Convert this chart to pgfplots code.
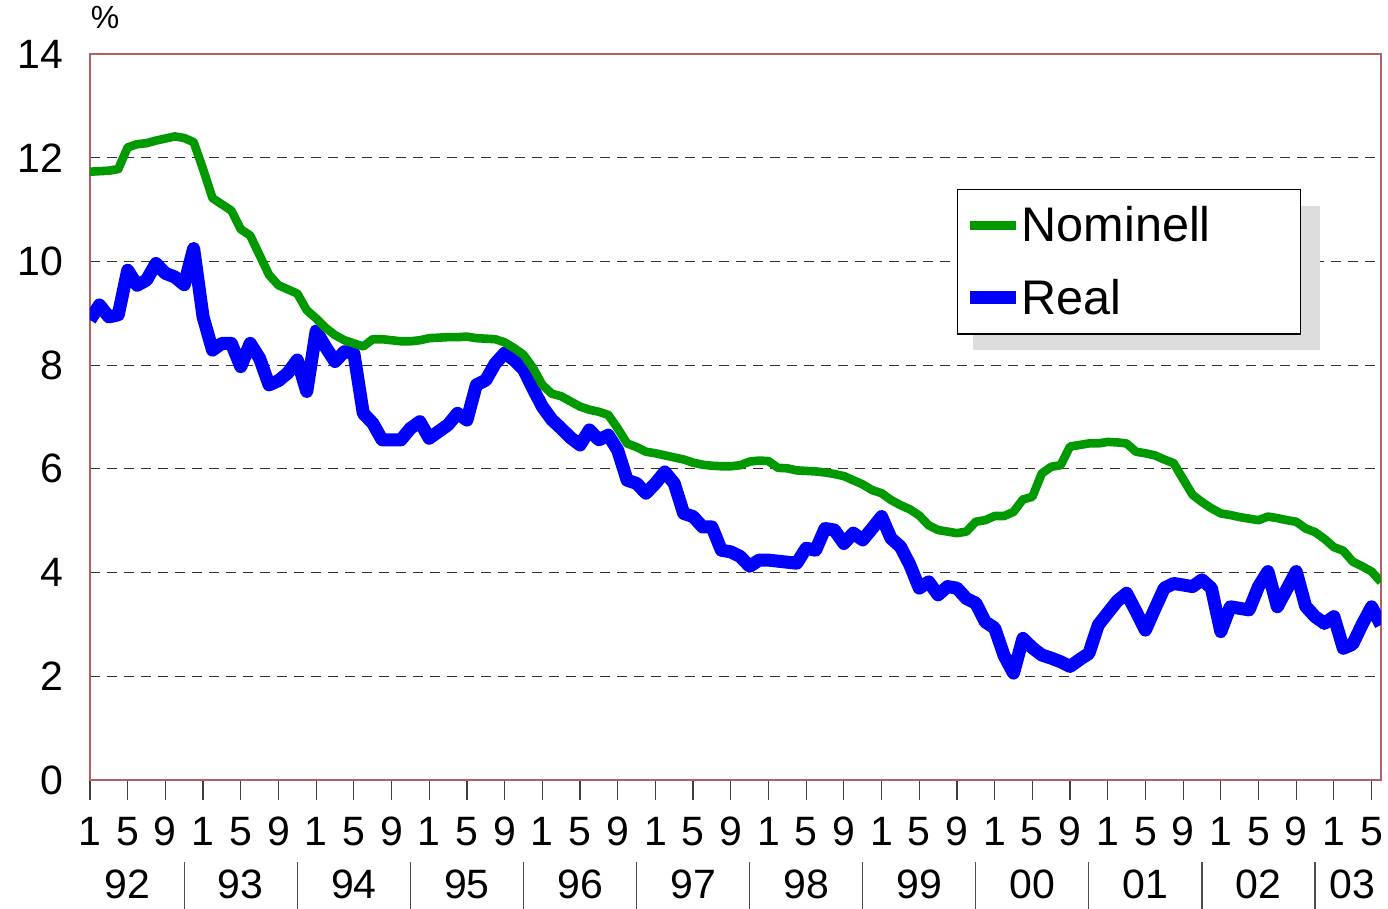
\documentclass[border=0pt]{standalone}
\usepackage{pgfplots}
\usepackage{pgfplotstable}
\pgfplotsset{compat=1.18}
\usepackage{fontspec}
\setmainfont{Liberation Sans}
\definecolor{nomgreen}{RGB}{0,153,0}
\definecolor{realblue}{RGB}{0,0,255}
\definecolor{frame}{RGB}{176,96,96}
\definecolor{shadowgray}{RGB}{221,221,221}

\pgfplotstableread{
i nom real
0 11.73 8.87
1 11.74 9.16
2 11.75 8.93
3 11.78 8.97
4 12.20 9.83
5 12.26 9.54
6 12.28 9.64
7 12.33 9.96
8 12.37 9.77
9 12.41 9.70
10 12.38 9.55
11 12.30 10.25
12 11.78 8.93
13 11.22 8.29
14 11.10 8.42
15 10.98 8.42
16 10.62 7.97
17 10.50 8.42
18 10.12 8.13
19 9.74 7.62
20 9.54 7.70
21 9.46 7.85
22 9.38 8.10
23 9.06 7.49
24 8.90 8.66
25 8.72 8.35
26 8.58 8.07
27 8.48 8.26
28 8.42 8.23
29 8.36 7.07
30 8.50 6.88
31 8.50 6.56
32 8.48 6.56
33 8.46 6.56
34 8.46 6.78
35 8.48 6.91
36 8.52 6.59
37 8.53 6.72
38 8.54 6.85
39 8.54 7.07
40 8.55 6.94
41 8.52 7.62
42 8.51 7.71
43 8.50 8.03
44 8.44 8.23
45 8.33 8.10
46 8.20 7.92
47 7.95 7.55
48 7.62 7.20
49 7.45 6.95
50 7.40 6.78
51 7.30 6.60
52 7.20 6.46
53 7.14 6.75
54 7.10 6.56
55 7.04 6.65
56 6.78 6.36
57 6.49 5.78
58 6.42 5.72
59 6.33 5.53
60 6.30 5.72
61 6.26 5.94
62 6.22 5.72
63 6.18 5.14
64 6.12 5.08
65 6.08 4.88
66 6.06 4.88
67 6.05 4.43
68 6.05 4.40
69 6.07 4.31
70 6.14 4.12
71 6.16 4.24
72 6.15 4.24
73 6.02 4.22
74 6.01 4.20
75 5.97 4.18
76 5.96 4.47
77 5.95 4.43
78 5.93 4.85
79 5.90 4.82
80 5.86 4.56
81 5.78 4.76
82 5.70 4.63
83 5.59 4.85
84 5.53 5.08
85 5.40 4.66
86 5.30 4.50
87 5.22 4.15
88 5.10 3.70
89 4.91 3.82
90 4.82 3.57
91 4.79 3.73
92 4.76 3.70
93 4.79 3.50
94 4.98 3.41
95 5.01 3.05
96 5.09 2.93
97 5.09 2.40
98 5.17 2.06
99 5.41 2.73
100 5.46 2.55
101 5.91 2.41
102 6.04 2.35
103 6.07 2.28
104 6.43 2.19
105 6.46 2.32
106 6.49 2.44
107 6.49 2.99
108 6.52 3.22
109 6.51 3.45
110 6.49 3.60
111 6.33 3.25
112 6.30 2.89
113 6.26 3.30
114 6.18 3.70
115 6.11 3.79
116 5.80 3.76
117 5.50 3.73
118 5.36 3.86
119 5.24 3.70
120 5.14 2.86
121 5.11 3.34
122 5.07 3.31
123 5.04 3.28
124 5.01 3.73
125 5.08 4.02
126 5.05 3.34
127 5.01 3.68
128 4.98 4.02
129 4.85 3.35
130 4.78 3.15
131 4.65 3.02
132 4.49 3.15
133 4.42 2.54
134 4.21 2.62
135 4.12 3.00
136 4.02 3.34
137 3.82 2.99
}\ratetable

\begin{document}
\begin{tikzpicture}
\path[use as bounding box] (-45pt,-64.5pt) rectangle (649pt,390pt);
\begin{axis}[
  at={(0,0)}, anchor=south west,
  scale only axis, width=645.5pt, height=363pt,
  xmin=0, xmax=137, ymin=0, ymax=14,
  ytick={0,2,...,14},
  xtick={0,4,...,136},
  xticklabels={1,5,9,1,5,9,1,5,9,1,5,9,1,5,9,1,5,9,1,5,9,1,5,9,1,5,9,1,5,9,1,5,9,1,5},
  /pgf/number format/assume math mode=true,
  ticklabel style={font=\fontsize{20.5}{24}\selectfont},
  tick align=outside,
  major tick length=10pt,
  xtick style={draw=black!75, line width=0.6pt},
  ytick style={draw=none},
  xtick pos=bottom,
  xticklabel style={anchor=base, yshift=-23pt},
  yticklabel style={xshift=0pt},
  ymajorgrids,
  major grid style={draw=black!80, line width=0.6pt, dash pattern=on 5pt off 3.5pt},
  axis line style={draw=frame, line width=0.8pt},
  legend cell align=left,
  reverse legend,
  legend image code/.code={\draw[#1] (0pt,0pt) -- (23pt,0pt);},
  legend style={at={(rel axis cs:0.6716,0.8140)}, anchor=north west,
    font=\fontsize{24.3}{29}\selectfont,
    draw=black, line width=0.6pt, fill=white,
    inner xsep=3pt, inner ysep=6.5pt,
    nodes={inner sep=2pt, text depth=0.15em},
    row sep=13pt},
]
\addplot[realblue, line width=6.5pt, line join=round, line cap=butt] table[x=i, y=real] {\ratetable};
\addlegendentry{\makebox[132pt][l]{\hspace*{-2.5pt}Real}}
\addplot[nomgreen, line width=4.3pt, line join=round, line cap=butt] table[x=i, y=nom] {\ratetable};
\addlegendentry{\makebox[132pt][l]{\hspace*{-2.5pt}Nominell}}
\fill[shadowgray] (rel axis cs:0.6840,0.5923) rectangle (rel axis cs:0.9527,0.7906);
\coordinate (y0) at (axis cs:4,0);
\coordinate (y1) at (axis cs:16,0);
\coordinate (y2) at (axis cs:28,0);
\coordinate (y3) at (axis cs:40,0);
\coordinate (y4) at (axis cs:52,0);
\coordinate (y5) at (axis cs:64,0);
\coordinate (y6) at (axis cs:76,0);
\coordinate (y7) at (axis cs:88,0);
\coordinate (y8) at (axis cs:100,0);
\coordinate (y9) at (axis cs:112,0);
\coordinate (y10) at (axis cs:124,0);
\coordinate (y11) at (axis cs:134,0);
\coordinate (s0) at (axis cs:10,0);
\coordinate (s1) at (axis cs:22,0);
\coordinate (s2) at (axis cs:34,0);
\coordinate (s3) at (axis cs:46,0);
\coordinate (s4) at (axis cs:58,0);
\coordinate (s5) at (axis cs:70,0);
\coordinate (s6) at (axis cs:82,0);
\coordinate (s7) at (axis cs:94,0);
\coordinate (s8) at (axis cs:106,0);
\coordinate (s9) at (axis cs:118,0);
\coordinate (s10) at (axis cs:130,0);
\coordinate (pct) at (rel axis cs:0,1);
\end{axis}
\foreach \k/\lab in {0/92,1/93,2/94,3/95,4/96,5/97,6/98,7/99,8/00,9/01,10/02,11/03} {
  \node[font=\fontsize{20.5}{24}\selectfont, anchor=base, inner sep=0pt] at ([yshift=-59.5pt]y\k) {\lab};
}
\foreach \k in {0,...,10} {
  \draw[black!70, line width=0.6pt] ([yshift=-41pt]s\k) -- ([yshift=-64.5pt]s\k);
}
\node[font=\fontsize{16}{19}\selectfont, inner sep=0pt] at ([xshift=7.5pt, yshift=18pt]pct) {\%};
\end{tikzpicture}
\end{document}
